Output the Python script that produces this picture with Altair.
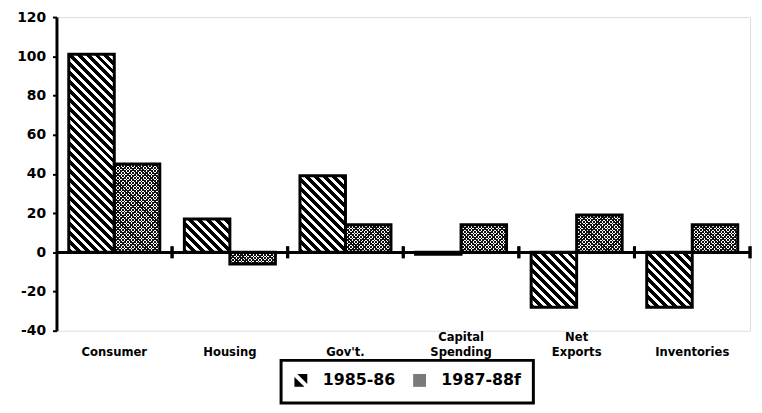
import altair as alt
import pandas as pd

categories = ["Consumer", "Housing", "Gov't.", "Capital Spending", "Net Exports", "Inventories"]
series = ["1985-86", "1987-88f"]
values_8586 = [101, 17, 39, -1, -28, -28]
values_8788 = [45, -6, 14, 14, 19, 14]
y_ticks = [-40, -20, 0, 20, 40, 60, 80, 100, 120]

rows = []
for c, a, b in zip(categories, values_8586, values_8788):
    rows.append({"cat": c, "series": series[0], "value": a})
    rows.append({"cat": c, "series": series[1], "value": b})
df = pd.DataFrame(rows)

W, H = 701, 317
YMIN, YMAX = -40, 120
PAD_OUTER = 0.27
step = W / len(categories)
bw = step / (2 + 2 * PAD_OUTER)


def stripe_gradient(w, h, period, frac, dark, light, direction):
    w = max(w, 1.0)
    h = max(h, 1.0)
    L = w + h
    k = L / (w * w + h * h)
    if direction == "back":
        x1, y1, x2, y2 = 0, 1, k * w, 1 - k * h
    else:
        x1, y1, x2, y2 = 0, 0, k * w, k * h
    stops = []
    s = period / L
    t = 0.0
    while t < 1:
        a = t
        b = min(t + frac * s, 1)
        c = min(t + s, 1)
        stops += [(a, dark), (b, dark), (b, light), (c, light)]
        t += s
    return {
        "gradient": "linear",
        "x1": x1, "y1": y1, "x2": x2, "y2": y2,
        "stops": [{"offset": round(o, 5), "color": col} for o, col in stops],
    }


FONT_X = "DejaVu Sans Condensed, Liberation Sans, Arial, sans-serif"
FONT_Y = "DejaVu Sans, sans-serif"

x_axis = alt.Axis(
    title=None, domain=False, ticks=False, labelAngle=0,
    labelExpr="indexof(datum.label, ' ') >= 0 ? split(datum.label, ' ') : ['', datum.label]",
    labelBaseline="top",
    labelPadding=0, labelLineHeight=15, labelFont=FONT_X,
    labelFontSize=13, labelFontWeight="bold", labelColor="black",
)
y_axis = alt.Axis(
    title=None, grid=False, values=y_ticks, domainWidth=3,
    domainColor="black", tickColor="black", tickWidth=2, tickSize=4,
    labelPadding=7, labelFont=FONT_Y, labelFontSize=14,
    labelFontWeight="bold", labelColor="black",
    labelExpr="datum.value + ''",
)
x_scale = alt.Scale(paddingInner=0, paddingOuter=0)
xo_scale = alt.Scale(paddingInner=0, paddingOuter=PAD_OUTER)
y_scale = alt.Scale(domain=[YMIN, YMAX], nice=False, zero=False)


def X(**kw):
    return alt.X("cat:N", sort=categories, scale=x_scale, axis=x_axis, **kw)


def XO():
    return alt.XOffset("series:N", sort=series, scale=xo_scale)


def Y(field="value"):
    return alt.Y(f"{field}:Q", scale=y_scale, axis=y_axis)


base = alt.Chart(df)

legend_props = alt.Legend.resolve_references().get("properties", {})
legend_extra = {"strokeWidth": 3} if "strokeWidth" in legend_props else {}
lc_props = alt.LegendConfig.resolve_references().get("properties", {})
lc_extra = {"strokeWidth": 3} if "strokeWidth" in lc_props else {}

legend = alt.Legend(
    title=None, orient="none", legendX=227, legendY=347,
    direction="horizontal", symbolSize=169,
    labelFont=FONT_Y, labelFontSize=16, labelFontWeight="bold",
    labelColor="black", labelOffset=14, columnPadding=13, padding=12,
    strokeColor="black", symbolStrokeColor="black", symbolStrokeWidth=2,
    symbolOpacity=1, **legend_extra,
)

hatch_symbol = "M-0.55,-1L1,-1L1,0.55ZM-1,-0.55L0.55,1L-1,1Z"

layers = []
# white base of all bars
layers.append(
    base.mark_bar(color="white").encode(x=X(), xOffset=XO(), y=Y())
)

for c, a, b in zip(categories, values_8586, values_8788):
    for s, v in ((series[0], a), (series[1], b)):
        h = abs(v) * H / (YMAX - YMIN)
        sub = base.transform_filter(
            alt.FieldEqualPredicate(field="cat", equal=c)
        ).transform_filter(
            alt.FieldEqualPredicate(field="series", equal=s)
        )
        if s == series[0]:
            grads = [stripe_gradient(bw, h, 9, 0.55, "black", "white", "back")]
        else:
            grads = [
                stripe_gradient(bw, h, 3.4, 0.42, "#111111", "rgba(0,0,0,0)", "back"),
                stripe_gradient(bw, h, 3.4, 0.42, "#111111", "rgba(0,0,0,0)", "fwd"),
            ]
        for g in grads:
            layers.append(
                sub.mark_bar(fill=g, strokeWidth=0).encode(x=X(), xOffset=XO(), y=Y())
            )

# zero line
layers.append(
    base.transform_calculate(zero="0").mark_rule(color="black", strokeWidth=2.5).encode(
        y=Y("zero")
    )
)
# bar outlines
layers.append(
    base.mark_bar(fillOpacity=0, stroke="black", strokeWidth=3).encode(
        x=X(), xOffset=XO(), y=Y()
    )
)
# separator ticks at band edges on the zero line
layers.append(
    base.transform_calculate(zero="0").mark_rule(
        color="black", strokeWidth=3, yOffset=-6, y2Offset=6
    ).encode(
        x=X(bandPosition=1), y=Y("zero"), y2=alt.Y2("zero")
    )
)
# legend carrier (draws no points)
layers.append(
    base.transform_filter("false").mark_point(filled=True, opacity=1).encode(
        x=X(), y=Y(),
        color=alt.Color("series:N", sort=series,
                        scale=alt.Scale(domain=series, range=["black", "#7a7a7a"]),
                        legend=legend),
        shape=alt.Shape("series:N", sort=series,
                        scale=alt.Scale(domain=series, range=[hatch_symbol, "square"]),
                        legend=legend),
    )
)

chart = alt.layer(*layers).properties(
    width=W, height=H,
    autosize=alt.AutoSizeParams(type="none"),
    padding={"left": 49, "top": 7, "right": 4, "bottom": 80},
).configure_view(stroke=None).configure(background="white").configure_legend(**lc_extra)

chart.save("out.html", embed_options={"renderer": "svg", "actions": False})
